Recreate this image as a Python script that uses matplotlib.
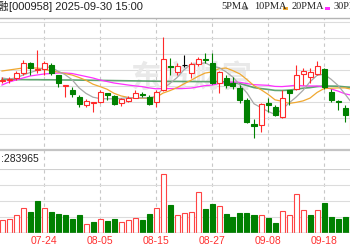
import matplotlib
matplotlib.use("Agg")
import matplotlib.pyplot as plt
from matplotlib.patches import Rectangle
from matplotlib.lines import Line2D

# ---------------- data ----------------
date_labels = ["07-24", "08-05", "08-15", "08-27", "09-08", "09-18"]
label_idx = [6, 14, 22, 30, 38, 46]

prev_close = 5.19
open_ = [5.19, 5.20, 5.22, 5.27, 5.37, 5.30, 5.31, 5.35, 5.25, 5.14, 5.10, 5.03, 4.95, 4.97, 4.98, 5.07, 5.04,
         4.97, 4.99, 5.02, 5.06, 5.03, 4.98, 5.10, 5.34, 5.28, 5.35, 5.27, 5.36, 5.41, 5.37, 5.17, 5.22, 5.17,
         5.12, 5.00, 4.76, 4.75, 4.97, 4.93, 4.83, 5.10, 5.11, 5.26, 5.23, 5.26, 5.31, 5.08, 4.99, 4.92, 4.70]
close = [5.20, 5.21, 5.27, 5.37, 5.32, 5.31, 5.37, 5.27, 5.17, 5.15, 5.06, 4.96, 4.99, 4.98, 5.08, 5.05, 4.96,
         5.01, 5.02, 5.07, 5.05, 4.96, 5.08, 5.41, 5.33, 5.34, 5.35, 5.36, 5.41, 5.40, 5.17, 5.28, 5.15, 5.14,
         5.00, 4.78, 4.74, 4.96, 4.95, 4.85, 5.02, 5.07, 5.25, 5.29, 5.28, 5.34, 5.13, 5.00, 4.98, 4.85, 4.88]
high = [5.23, 5.23, 5.29, 5.40, 5.38, 5.50, 5.39, 5.37, 5.25, 5.15, 5.13, 5.05, 5.01, 4.98, 5.10, 5.07, 5.05,
        5.02, 5.04, 5.10, 5.08, 5.05, 5.10, 5.63, 5.42, 5.37, 5.45, 5.38, 5.43, 5.47, 5.47, 5.29, 5.25, 5.23,
        5.15, 5.02, 4.81, 4.97, 5.02, 4.95, 5.10, 5.10, 5.35, 5.32, 5.32, 5.39, 5.32, 5.11, 5.00, 4.95, 4.90]
low = [5.17, 5.17, 5.20, 5.25, 5.25, 5.27, 5.25, 5.25, 5.13, 5.03, 5.03, 4.93, 4.93, 4.88, 4.97, 5.00, 4.95,
       4.94, 4.98, 5.02, 5.03, 4.95, 4.93, 5.09, 5.25, 5.25, 5.33, 5.22, 5.34, 5.37, 5.16, 5.07, 5.12, 5.11,
       4.97, 4.77, 4.62, 4.68, 4.88, 4.84, 4.82, 4.95, 5.10, 5.15, 5.17, 5.25, 5.11, 4.98, 4.90, 4.78, 4.68]
volume = [123000, 140000, 173000, 243000, 207000, 313000, 243000, 207000, 187000, 180000, 133000, 173000,
          87000, 107000, 133000, 117000, 133000, 107000, 123000, 150000, 123000, 187000, 243000, 583000,
          273000, 173000, 193000, 207000, 407000, 233000, 287000, 263000, 187000, 153000, 197000, 197000,
          180000, 180000, 147000, 97000, 213000, 180000, 387000, 223000, 180000, 223000, 297000, 153000,
          133000, 153000, 150000]

ma5 = [5.22, 5.21, 5.22, 5.25, 5.274, 5.296, 5.328, 5.328, 5.288, 5.254, 5.204, 5.122, 5.066, 5.028, 5.014,
       5.012, 5.012, 5.016, 5.024, 5.022, 5.022, 5.022, 5.036, 5.114, 5.166, 5.224, 5.302, 5.358, 5.358,
       5.372, 5.338, 5.324, 5.282, 5.228, 5.148, 5.07, 4.962, 4.924, 4.886, 4.856, 4.904, 4.97, 5.028,
       5.096, 5.182, 5.246, 5.258, 5.208, 5.146, 5.06, 4.968]
ma10 = [5.29, 5.30, 5.31, 5.32, 5.32, 5.32, 5.31, 5.29, 5.28, 5.264, 5.25, 5.225, 5.197, 5.158, 5.134, 5.108,
        5.067, 5.041, 5.026, 5.018, 5.017, 5.017, 5.026, 5.069, 5.094, 5.123, 5.162, 5.197, 5.236, 5.269,
        5.281, 5.313, 5.32, 5.293, 5.26, 5.204, 5.143, 5.103, 5.057, 5.002, 4.987, 4.966, 4.976, 4.991,
        5.019, 5.075, 5.114, 5.118, 5.121, 5.121, 5.107]
ma20 = [5.15, 5.18, 5.20, 5.22, 5.24, 5.25, 5.26, 5.265, 5.27, 5.27, 5.265, 5.25, 5.235, 5.22, 5.20, 5.185,
        5.17, 5.16, 5.15, 5.141, 5.134, 5.121, 5.112, 5.114, 5.114, 5.116, 5.115, 5.119, 5.131, 5.144, 5.149,
        5.165, 5.173, 5.181, 5.177, 5.164, 5.153, 5.15, 5.147, 5.136, 5.134, 5.140, 5.148, 5.142, 5.140,
        5.140, 5.129, 5.111, 5.089, 5.062, 5.047]
ma30 = [5.205, 5.205, 5.204, 5.204, 5.203, 5.203, 5.202, 5.202, 5.201, 5.200, 5.200, 5.199, 5.198, 5.197,
        5.196, 5.195, 5.194, 5.193, 5.192, 5.191, 5.190, 5.189, 5.188, 5.187, 5.186, 5.186, 5.185, 5.185,
        5.184, 5.184, 5.183, 5.185, 5.181, 5.173, 5.163, 5.145, 5.124, 5.114, 5.106, 5.096, 5.095, 5.099,
        5.107, 5.118, 5.124, 5.134, 5.140, 5.139, 5.138, 5.131, 5.125]

price_grid = [4.66, 4.82, 4.98, 5.14, 5.30, 5.46, 5.62, 5.78]
vol_grid = [160000, 320000, 480000]

# ---------------- figure ----------------
W, H = 350, 250
fig = plt.figure(figsize=(3.5, 2.5), dpi=100)
fig.patch.set_facecolor("white")


def fy(y):
    return 1 - y / H


RED = "#ff2a2a"
GREEN = "#008000"
GRID = "#dcdcdc"
n = len(close)
xlim = (-2 / 7, 348 / 7)

# background axes for vertical dashed lines
ax_bg = fig.add_axes([0, fy(232.7), 1, (232.7 - 18) / H])
ax_bg.set_xlim(*xlim)
ax_bg.set_ylim(0, 1)
ax_bg.axis("off")
for i in label_idx:
    ax_bg.axvline(i, color="#c8c8c8", lw=0.8, ls=(0, (3, 3)))

# price axes
ax = fig.add_axes([0, fy(150), 1, (150 - 18) / H])
ax.set_facecolor("none")
ax.set_xlim(*xlim)
ax.set_ylim(4.50, 5.82)
ax.axis("off")
for g in price_grid:
    ax.axhline(g, color=GRID, lw=0.8, zorder=0)

ax.text(27, 5.22, "东方财富", family=["Noto Sans CJK SC", "DejaVu Sans"], fontsize=22,
        fontweight="bold", color="#e9e9e9", ha="center", va="center", zorder=0.5, style="italic")

bw = 5 / 7
for i in range(n):
    o, c, h, l = open_[i], close[i], high[i], low[i]
    if c > o:
        col, face = RED, "white"
    elif c < o:
        col, face = GREEN, GREEN
    else:
        col, face = "black", "black"
    ax.vlines(i, l, h, color=col, lw=0.8, zorder=3)
    if c == o:
        ax.hlines(o, i - bw / 2, i + bw / 2, color=col, lw=0.8, zorder=4)
    else:
        ax.bar(i, abs(c - o), bottom=min(o, c), width=bw, facecolor=face, edgecolor=col,
               linewidth=0.8, zorder=4)

xs = list(range(n))
ax.plot(xs, ma30, color="#4f9a62", lw=1.2, zorder=2, alpha=0.9)
ax.plot(xs, ma20, color="#ff30ff", lw=0.9, zorder=2)
ax.plot(xs, ma10, color="#f0a830", lw=0.9, zorder=2)
ax.plot(xs, ma5, color="#a8a8a8", lw=0.9, zorder=2)

# volume axes
axv = fig.add_axes([0, fy(232.7), 1, 64 / H])
axv.set_facecolor("none")
axv.set_xlim(*xlim)
axv.set_ylim(0, 640000)
axv.axis("off")
for g in vol_grid:
    axv.axhline(g, color=GRID, lw=0.8, zorder=0)
axv.axhline(640000, color="#d0d0d0", lw=0.8, zorder=0)
axv.axhline(0, color="#b0b0b0", lw=1.0, zorder=5)
pc = [prev_close] + close[:-1]
for i in range(n):
    if close[i] >= pc[i]:
        axv.bar(i, volume[i], width=bw, facecolor="white", edgecolor="#ff4444", linewidth=0.8, zorder=3)
    else:
        axv.bar(i, volume[i], width=bw, facecolor=GREEN, edgecolor=GREEN, linewidth=0.8, zorder=3)

# date labels
for i, lab in zip(label_idx, date_labels):
    axv.text(i, -0.13, lab, transform=axv.get_xaxis_transform(), ha="center", va="center",
             fontsize=7.5, color="#ff3030", family="Liberation Sans")

# separator lines
fig.add_artist(Line2D([0, 1], [fy(18), fy(18)], color="#b4b4b4", lw=1.0))
fig.add_artist(Line2D([0, 1], [fy(150), fy(150)], color="#c4c4c4", lw=1.6))

# header
fig.text(9 / W, fy(6.5), "电投产融", ha="right", va="center", fontsize=8,
         family=["Noto Sans CJK SC", "DejaVu Sans"], color="#222222")
fig.text(9 / W, fy(6.5), "[000958] 2025-09-30 15:00", ha="left", va="center", fontsize=8,
         family="Liberation Sans", color="#222222")

legend_items = [("5PMA", 221, "#b0b0b0", 243), ("10PMA", 254, "#f0a830", 283),
                ("20PMA", 292, "#ff30ff", 325), ("30PMA", 334, "#4f9a62", 368)]
for lab, x0, col, mx in legend_items:
    fig.text(x0 / W, fy(6.5), lab, ha="left", va="center", fontsize=7.5,
             family="Liberation Serif", color="#222222")
    fig.add_artist(Rectangle((mx / W, fy(9.5)), 5 / W, 2.5 / H, facecolor=col, edgecolor="none",
                             transform=fig.transFigure))

fig.text(0.5 / W, fy(159.5), ":283965", ha="left", va="center", fontsize=7.5,
         family="Liberation Sans", color="#222222")

fig.savefig("out.png", dpi=100)
